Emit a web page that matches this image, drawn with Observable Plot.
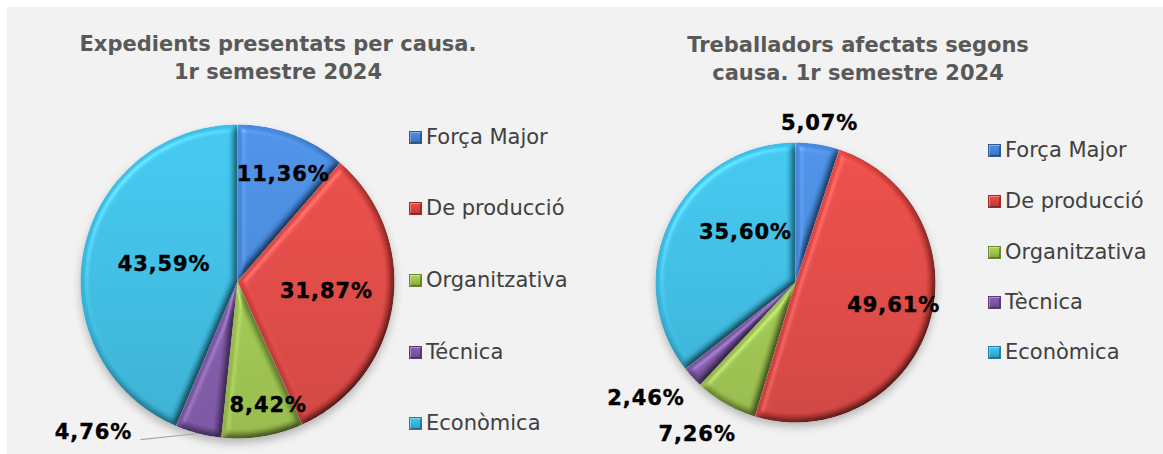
<!DOCTYPE html>
<html><head><meta charset="utf-8">
<script src="https://cdn.jsdelivr.net/npm/d3@7"></script>
<script src="https://cdn.jsdelivr.net/npm/@observablehq/plot@0.6"></script>
<style>
html,body{margin:0;padding:0;background:#fff}
#root{position:relative;width:1163px;height:454px;overflow:hidden;background:#fff;font-family:"DejaVu Sans",Verdana,sans-serif}
#panel{position:absolute;left:7px;top:7px;right:0;bottom:0;background:#f2f2f2}
.title{position:absolute;text-align:center;font-weight:bold;color:#595959;font-size:21px;line-height:28px;white-space:nowrap;transform:translateX(-50%)}
.item{position:absolute;display:flex;align-items:center;white-space:nowrap;font-size:21px;color:#404040;transform:translateY(-50%);line-height:24px}
.sw{width:13px;height:13px;margin-right:4px;box-sizing:border-box}
.pie{position:absolute;top:0}
.pie svg{overflow:visible}
</style></head><body><div id="root"><div id="panel"></div></div>
<script>
// ---- data ----
const categories = ["Força Major", "De producció", "Organitzativa", "Tècnica", "Econòmica"];
const legendLabels1 = ["Força Major", "De producció", "Organitzativa", "Técnica", "Econòmica"];
const legendLabels2 = ["Força Major", "De producció", "Organitzativa", "Tècnica", "Econòmica"];
const expedients = [11.36, 31.87, 8.42, 4.76, 43.59];
const treballadors = [5.07, 49.61, 7.26, 2.46, 35.60];
const title1 = ["Expedients presentats per causa.", "1r semestre 2024"];
const title2 = ["Treballadors afectats segons", "causa. 1r semestre 2024"];
const colors = ["#4282d2", "#d8433f", "#9bc24b", "#7d56a6", "#38b5db"];

// ---- layout (pixels / polar label placement) ----
const layout1 = {
  id: "p1", left: 0, width: 580, cx: 237, cy: 281, r: 157,
  titleX: 278, titleY: 30,
  legendX: 409, legendY: [137, 208, 280, 352, 423],
  labelPos: [{angle: 23, k: 0.745}, {angle: 96, k: 0.57}, {angle: 166, k: 0.81}, {angle: 223.6, k: 1.33}, {angle: 283, k: 0.48}],
  leader: {slice: 3, dx: 47, dy: 7}
};
const layout2 = {
  id: "p2", left: 580, width: 583, cx: 215, cy: 282, r: 140,
  titleX: 858, titleY: 31,
  legendX: 988, legendY: [150, 201, 252, 302, 352],
  labelPos: [{angle: 8.6, k: 1.15}, {angle: 103, k: 0.72}, {angle: 213, k: 1.29}, {angle: 232.3, k: 1.35}, {angle: 315, k: 0.505}],
  leader: null
};

const root = document.getElementById("root");
const fmt = v => v.toFixed(2).replace(".", ",") + "%";

function addTitle(lines, L) {
  const d = document.createElement("div");
  d.className = "title";
  d.style.left = L.titleX + "px";
  d.style.top = L.titleY + "px";
  d.innerHTML = lines.join("<br>");
  root.appendChild(d);
}

function addLegend(labels, L) {
  labels.forEach((lab, i) => {
    const c = d3.color(colors[i]);
    const it = document.createElement("div");
    it.className = "item";
    it.style.left = L.legendX + "px";
    it.style.top = L.legendY[i] + "px";
    const sw = document.createElement("div");
    sw.className = "sw";
    sw.style.background = `linear-gradient(${c.brighter(0.3)}, ${c} 50%, ${c.darker(0.5)})`;
    sw.style.border = `1px solid ${c.darker(1)}`;
    sw.style.boxShadow = "inset 1px 1px 0 rgba(255,255,255,.3), inset -1px -1px 0 rgba(0,0,0,.3)";
    const t = document.createElement("span");
    t.textContent = lab;
    it.appendChild(sw); it.appendChild(t);
    root.appendChild(it);
  });
}

function drawPie(values, L) {
  const H = 454, W = L.width, r = L.r;
  const total = d3.sum(values);
  let acc = 0;
  const slices = values.map((v, i) => {
    const a0 = acc / total * 2 * Math.PI; acc += v;
    const a1 = acc / total * 2 * Math.PI;
    return {i, v, a0, a1, mid: (a0 + a1) / 2};
  });
  const polygon = s => {
    const n = Math.max(2, Math.ceil((s.a1 - s.a0) / (Math.PI / 360)));
    const pts = [{x: 0, y: 0}];
    for (let k = 0; k <= n; k++) {
      const a = s.a0 + (s.a1 - s.a0) * k / n;
      pts.push({x: Math.sin(a), y: -Math.cos(a)});
    }
    return pts;
  };
  const labels = slices.map(s => {
    const p = L.labelPos[s.i], a = p.angle * Math.PI / 180;
    return {x: p.k * Math.sin(a), y: -p.k * Math.cos(a), text: fmt(s.v)};
  });
  const marks = [
    Plot.dot([{x: 0, y: 0.03}], {x: "x", y: "y", r: r, fill: "#000", fillOpacity: 0.25, stroke: "none"}),
    ...slices.map(s => Plot.line(polygon(s), {x: "x", y: "y", curve: "linear-closed", fill: `url(#${L.id}-g${s.i})`, stroke: "none"}))
  ];
  if (L.leader) {
    const s = slices[L.leader.slice], lp = labels[L.leader.slice];
    marks.push(Plot.link([{x1: lp.x + L.leader.dx / r, y1: lp.y + L.leader.dy / r, x2: Math.sin(s.mid) * 1.0, y2: -Math.cos(s.mid) * 1.0}],
      {x1: "x1", y1: "y1", x2: "x2", y2: "y2", stroke: "#a6a6a6", strokeWidth: 1.2}));
  }
  marks.push(Plot.text(labels, {x: "x", y: "y", text: "text", fontSize: 21, fontWeight: "bold", fill: "#000", stroke: "#000", strokeWidth: 0.4, fontFamily: "DejaVu Sans"}));

  const svg = Plot.plot({
    width: W, height: H, margin: 0,
    x: {domain: [-L.cx / r, (W - L.cx) / r], range: [0, W], axis: null},
    y: {domain: [-L.cy / r, (H - L.cy) / r], range: [0, H], axis: null},
    style: {background: "transparent", overflow: "visible"},
    marks
  });
  const s = d3.select(svg);
  const defs = s.insert("defs", ":first-child");
  colors.forEach((c, i) => {
    const col = d3.color(c);
    const g = defs.append("linearGradient").attr("id", `${L.id}-g${i}`)
      .attr("gradientUnits", "userSpaceOnUse")
      .attr("x1", 0).attr("x2", 0).attr("y1", L.cy - r).attr("y2", L.cy + r);
    g.append("stop").attr("offset", 0).attr("stop-color", col.brighter(0.15));
    g.append("stop").attr("offset", 0.45).attr("stop-color", col);
    g.append("stop").attr("offset", 1).attr("stop-color", col.darker(0.25));
  });
  const f = defs.append("filter").attr("id", `${L.id}-bevel`).attr("x", "-5%").attr("y", "-5%").attr("width", "110%").attr("height", "110%")
    .attr("color-interpolation-filters", "sRGB");
  f.append("feGaussianBlur").attr("in", "SourceAlpha").attr("stdDeviation", 3.5).attr("result", "blur");
  const dl = f.append("feDiffuseLighting").attr("in", "blur").attr("surfaceScale", 3.5).attr("diffuseConstant", 1.155)
    .attr("lighting-color", "#fff").attr("result", "diff");
  dl.append("feDistantLight").attr("azimuth", 225).attr("elevation", 60);
  f.append("feComposite").attr("in", "SourceGraphic").attr("in2", "diff").attr("operator", "arithmetic")
    .attr("k1", 1).attr("k2", 0).attr("k3", 0).attr("k4", 0).attr("result", "shaded");
  const sl = f.append("feSpecularLighting").attr("in", "blur").attr("surfaceScale", 3.5).attr("specularConstant", 0.6)
    .attr("specularExponent", 40).attr("lighting-color", "#fff").attr("result", "spec");
  sl.append("feDistantLight").attr("azimuth", 225).attr("elevation", 60);
  f.append("feComposite").attr("in", "spec").attr("in2", "SourceAlpha").attr("operator", "in").attr("result", "specIn");
  f.append("feComposite").attr("in", "shaded").attr("in2", "specIn").attr("operator", "arithmetic")
    .attr("k1", 0).attr("k2", 1).attr("k3", 0.3).attr("k4", 0).attr("result", "lit");
  f.append("feComposite").attr("in", "lit").attr("in2", "SourceAlpha").attr("operator", "in");
  const sh = defs.append("filter").attr("id", `${L.id}-shadow`).attr("x", "-20%").attr("y", "-20%").attr("width", "140%").attr("height", "140%");
  sh.append("feGaussianBlur").attr("stdDeviation", 4);

  s.selectAll('g[aria-label="line"] path').attr("filter", `url(#${L.id}-bevel)`);
  s.selectAll('g[aria-label="dot"] circle').attr("filter", `url(#${L.id}-shadow)`);
  s.selectAll('g[aria-label="text"] text').style("letter-spacing", "0.9px");

  const wrap = document.createElement("div");
  wrap.className = "pie";
  wrap.style.left = L.left + "px";
  wrap.appendChild(svg);
  root.appendChild(wrap);
}

drawPie(expedients, layout1);
drawPie(treballadors, layout2);
addTitle(title1, layout1);
addTitle(title2, layout2);
addLegend(legendLabels1, layout1);
addLegend(legendLabels2, layout2);
</script></body></html>
